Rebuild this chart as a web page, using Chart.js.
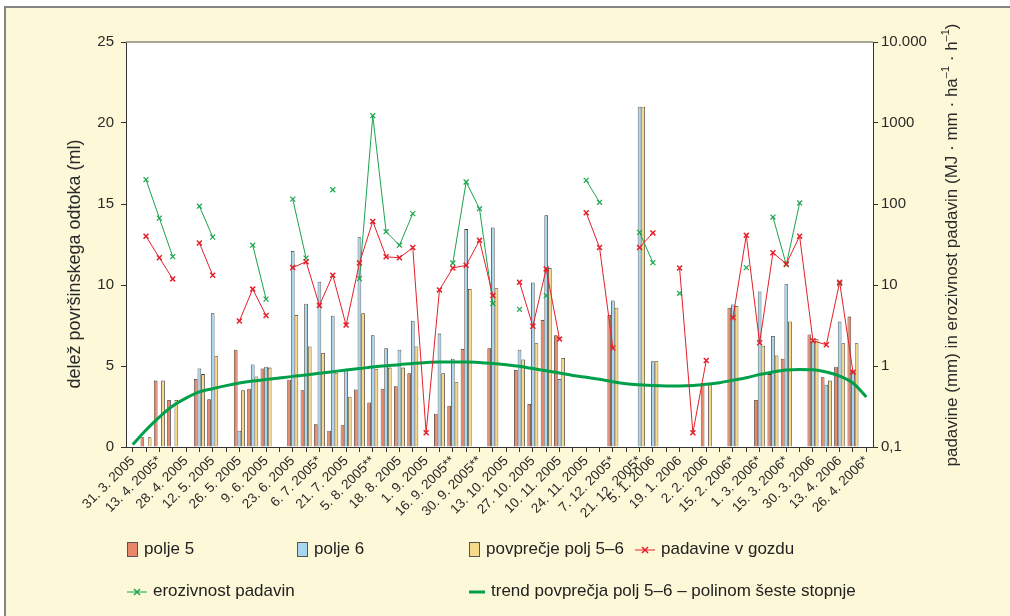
<!DOCTYPE html>
<html>
<head>
<meta charset="utf-8">
<script src="https://cdn.jsdelivr.net/npm/chart.js@4.4.1/dist/chart.umd.min.js"></script>
<style>
  html, body { margin: 0; padding: 0; background: #ffffff; }
  #wrap { position: relative; width: 1010px; height: 616px; font-family: "Liberation Sans", Arial, sans-serif; }
  #legend .item { position: absolute; display: flex; align-items: center; height: 20px; font-size: 17px; color: #222; white-space: nowrap; }
  #legend svg { margin-right: 6px; }
</style>
</head>
<body>
<div id="wrap">
  <canvas id="chart"></canvas>
  <div id="legend"></div>
</div>
<script>
// kategorije (datumi meritev) - oznaka samo na vsaki drugi
const categories = [
  "31. 3. 2005", "", "13. 4. 2005*", "", "28. 4. 2005", "", "12. 5. 2005", "", "26. 5. 2005", "",
  "9. 6. 2005", "", "23. 6. 2005", "", "6. 7. 2005*", "", "21. 7. 2005", "", "5. 8. 2005**", "",
  "18. 8. 2005", "", "1. 9. 2005", "", "16. 9. 2005**", "", "30. 9. 2005**", "", "13. 10. 2005", "",
  "27. 10. 2005", "", "10. 11. 2005", "", "24. 11. 2005", "", "7. 12. 2005*", "", "21. 12. 2005*", "5. 1. 2006",
  "", "19. 1. 2006", "", "2. 2. 2006", "", "15. 2. 2006*", "", "1. 3. 2006*", "", "15. 3. 2006*",
  "", "30. 3. 2006", "", "13. 4. 2006", "", "26. 4. 2006*"
];

// delež površinskega odtoka (ml)
const polje5 = [
  null, 0.6, 4.1, 2.9, null, 4.2, 2.95, null, 6.0, 3.6,
  4.85, null, 4.15, 3.5, 1.4, 1.0, 1.35, 3.55, 2.75, 3.6,
  3.75, 4.55, null, 2.05, 2.55, 6.05, null, 6.1, null, 4.75,
  2.65, 7.85, 6.9, null, null, null, 8.15, null, null, null,
  null, null, null, 3.95, null, 8.6, null, 2.9, 4.5, 5.45,
  null, 6.95, 4.3, 4.95, 8.05, null
];
const polje6 = [
  null, null, null, null, null, 4.85, 8.25, null, 1.0, 5.1,
  4.95, null, 12.1, 8.85, 10.2, 8.1, 4.8, 12.95, 6.9, 6.1,
  6.0, 7.8, null, 7.0, 5.45, 13.45, null, 13.55, null, 6.0,
  10.15, 14.3, 4.2, null, null, null, 9.05, null, 21.0, 5.3,
  null, null, null, null, null, 8.8, null, 9.6, 6.85, 10.05,
  null, 6.5, 3.85, 7.75, 4.7, null
];
const povprecje = [
  null, 0.6, 4.1, 2.9, null, 4.5, 5.6, null, 3.5, 4.35,
  4.9, null, 8.15, 6.2, 5.8, 4.55, 3.1, 8.25, 4.8, 4.9,
  4.9, 6.2, null, 4.55, 4.0, 9.75, null, 9.8, null, 5.4,
  6.4, 11.05, 5.5, null, null, null, 8.6, null, 21.0, 5.3,
  null, null, null, 3.95, null, 8.7, null, 6.25, 5.65, 7.75,
  null, 6.65, 4.1, 6.4, 6.4, null
];
// desna (log) os
const padavine = [
  null, 40, 21.7, 11.9, null, 33, 13.2, null, 3.6, 8.9,
  4.2, null, 16.4, 19.4, 5.6, 13.2, 3.2, 18.7, 61, 22.3,
  21.7, 29, 0.15, 8.7, 16.2, 17.5, 35.6, 7.4, null, 10.8,
  3.1, 15.8, 2.15, null, 78, 29, 1.67, null, 29, 44,
  null, 16.2, 0.15, 1.17, null, 3.95, 41, 1.94, 25, 18.2,
  40, 2.05, 1.83, 10.8, 0.84, null
];
const erozivnost = [
  null, 200, 67, 22.4, null, 94, 39, null, null, 31,
  6.7, null, 115, 21.5, null, 150, null, 12, 1230, 45.5,
  31, 76, null, null, 18.7, 187, 87.5, 5.9, null, 5.0,
  null, 7.4, null, null, 196, 105, null, null, 44.7, 18.9,
  null, 7.9, null, null, null, null, 16.4, null, 69, 17.8,
  103, null, null, 10.4, null, null
];
// trend povprečja (odčitano s slike)
const trend = [
  0.15, 1.05, 1.85, 2.53, 3.02, 3.4, 3.6, 3.79, 3.95, 4.07,
  4.16, 4.26, 4.36, 4.44, 4.55, 4.65, 4.75, 4.84, 4.94, 5.02,
  5.08, 5.16, 5.21, 5.25, 5.25, 5.25, 5.21, 5.16, 5.08, 4.98,
  4.84, 4.71, 4.57, 4.42, 4.3, 4.18, 4.03, 3.91, 3.84, 3.79,
  3.77, 3.77, 3.8, 3.87, 3.97, 4.12, 4.28, 4.47, 4.63, 4.75,
  4.79, 4.77, 4.63, 4.38, 3.95, 3.09
];

const rightTickValues = [0.1, 1, 10, 100, 1000, 10000];
const rightTickLabels = ["0,1", "1", "10", "100", "1000", "10.000"];

const FONT = '"Liberation Sans", Arial, sans-serif';
Chart.defaults.font.family = FONT;
Chart.defaults.color = '#2a2a2a';

// ozadje, bela ploskev, zgornji rob in naslova osi
const frame = {
  id: 'frame',
  beforeDraw(c) {
    const { ctx, chartArea: a, width, height } = c;
    ctx.save();
    ctx.fillStyle = '#fdf8d8';
    ctx.fillRect(6, 8, width - 6, height - 8);
    ctx.strokeStyle = '#858585';
    ctx.lineWidth = 2;
    ctx.beginPath();
    ctx.moveTo(5, height);
    ctx.lineTo(5, 7);
    ctx.lineTo(width, 7);
    ctx.stroke();
    ctx.fillStyle = '#ffffff';
    ctx.fillRect(a.left, a.top, a.right - a.left, a.bottom - a.top);
    ctx.restore();
  },
  afterDraw(c) {
    const { ctx, chartArea: a } = c;
    ctx.save();
    ctx.strokeStyle = '#8a8a7a';
    ctx.lineWidth = 1.5;
    ctx.beginPath();
    ctx.moveTo(a.left, a.top);
    ctx.lineTo(a.right, a.top);
    ctx.stroke();

    ctx.fillStyle = '#2a2a2a';
    ctx.textBaseline = 'middle';
    ctx.textAlign = 'center';
    // leva
    ctx.save();
    ctx.translate(75, 264);
    ctx.rotate(-Math.PI / 2);
    ctx.font = '18px ' + FONT;
    ctx.fillText('delež površinskega odtoka (ml)', 0, 0);
    ctx.restore();
    // desna, z eksponenti
    const parts = [
      ['padavine (mm) in erozivnost padavin (MJ · mm · ha', false],
      ['–1', true], [' · h', false], ['–1', true], [')', false]
    ];
    const big = '17px ' + FONT, small = '11px ' + FONT;
    let total = 0;
    parts.forEach(p => { ctx.font = p[1] ? small : big; total += ctx.measureText(p[0]).width; });
    ctx.save();
    ctx.translate(952, 245);
    ctx.rotate(-Math.PI / 2);
    ctx.textAlign = 'left';
    let x = -total / 2;
    parts.forEach(p => {
      ctx.font = p[1] ? small : big;
      ctx.fillText(p[0], x, p[1] ? -6 : 0);
      x += ctx.measureText(p[0]).width;
    });
    ctx.restore();
    ctx.restore();
  }
};

const chart = new Chart(document.getElementById('chart'), {
  type: 'bar',
  data: {
    labels: categories,
    datasets: [
      { label: 'polje 5', data: polje5, backgroundColor: '#e9876a', borderColor: '#3a302a', borderWidth: 0.8, yAxisID: 'y', order: 3 },
      { label: 'polje 6', data: polje6, backgroundColor: '#a6d6f0', borderColor: '#3a302a', borderWidth: 0.8, yAxisID: 'y', order: 3 },
      { label: 'povprečje polj 5–6', data: povprecje, backgroundColor: '#f7da88', borderColor: '#3a302a', borderWidth: 0.8, yAxisID: 'y', order: 3 },
      {
        type: 'line', label: 'padavine v gozdu', data: padavine, yAxisID: 'y2',
        borderColor: '#e4202a', borderWidth: 1, tension: 0,
        pointStyle: 'crossRot', pointRadius: 3.5, pointBorderWidth: 1.5, pointBorderColor: '#e4202a', order: 1
      },
      {
        type: 'line', label: 'erozivnost padavin', data: erozivnost, yAxisID: 'y2',
        borderColor: '#1aa44e', borderWidth: 1, tension: 0,
        pointStyle: 'crossRot', pointRadius: 3.5, pointBorderWidth: 1.2, pointBorderColor: '#1aa44e', order: 1
      },
      {
        type: 'line', label: 'trend povprečja polj 5–6 – polinom šeste stopnje', data: trend, yAxisID: 'y',
        borderColor: '#00a04a', borderWidth: 3, pointRadius: 0, cubicInterpolationMode: 'monotone', order: 2
      }
    ]
  },
  options: {
    responsive: true,
    maintainAspectRatio: false,
    animation: false,
    datasets: { bar: { categoryPercentage: 0.82, barPercentage: 1.0 } },
    layout: { padding: { top: 42, left: 0, right: 0, bottom: 0 } },
    plugins: { legend: { display: false }, tooltip: { enabled: false } },
    scales: {
      x: {
        offset: true,
        grid: { offset: false, drawOnChartArea: false, tickLength: 5, tickColor: '#333', lineWidth: 1 },
        border: { color: '#333', width: 1 },
        ticks: { autoSkip: false, maxRotation: 45, minRotation: 45, padding: 1, font: { size: 13.5 }, color: '#2a2a2a' },
        afterFit(s) { s.height = 616 - 447; }
      },
      y: {
        position: 'left', min: 0, max: 25,
        grid: { drawOnChartArea: false, tickLength: 5, tickColor: '#333' },
        border: { color: '#333', width: 1 },
        ticks: { stepSize: 5, padding: 7, font: { size: 15 }, color: '#2a2a2a' },
        afterFit(s) { s.width = 126; }
      },
      y2: {
        type: 'logarithmic', position: 'right', min: 0.1, max: 10000,
        grid: { drawOnChartArea: false, tickLength: 5, tickColor: '#333' },
        border: { color: '#333', width: 1 },
        afterBuildTicks(s) { s.ticks = rightTickValues.map(v => ({ value: v })); },
        ticks: {
          padding: 3, font: { size: 15 }, color: '#2a2a2a',
          callback(v) { const i = rightTickValues.indexOf(v); return i >= 0 ? rightTickLabels[i] : ''; }
        },
        afterFit(s) { s.width = 1010 - 873; }
      }
    }
  },
  plugins: [frame]
});

// legenda (HTML), razpored kot v izvirniku
const legendSlots = [[127, 549], [297, 549], [469, 549], [635, 549], [127, 591], [469, 591]];
const legendEl = document.getElementById('legend');
chart.data.datasets.forEach((ds, i) => {
  const [lx, ly] = legendSlots[i];
  let sw;
  if (ds.type !== 'line') {
    sw = `<svg width="11" height="15"><rect x="0.5" y="0.5" width="10" height="14" fill="${ds.backgroundColor}" stroke="#555" stroke-width="1"/></svg>`;
  } else if (ds.pointRadius === 0) {
    sw = `<svg width="16" height="15"><line x1="0" y1="8" x2="16" y2="8" stroke="${ds.borderColor}" stroke-width="3"/></svg>`;
  } else {
    const c = ds.borderColor;
    sw = `<svg width="20" height="15"><line x1="0" y1="8" x2="20" y2="8" stroke="${c}" stroke-width="1"/>` +
         `<path d="M7 5 L13 11 M13 5 L7 11" stroke="${c}" stroke-width="1.5"/></svg>`;
  }
  const d = document.createElement('div');
  d.className = 'item';
  d.style.left = lx + 'px';
  d.style.top = (ly - 10) + 'px';
  d.innerHTML = sw + '<span>' + ds.label + '</span>';
  legendEl.appendChild(d);
});
</script>
</body>
</html>
